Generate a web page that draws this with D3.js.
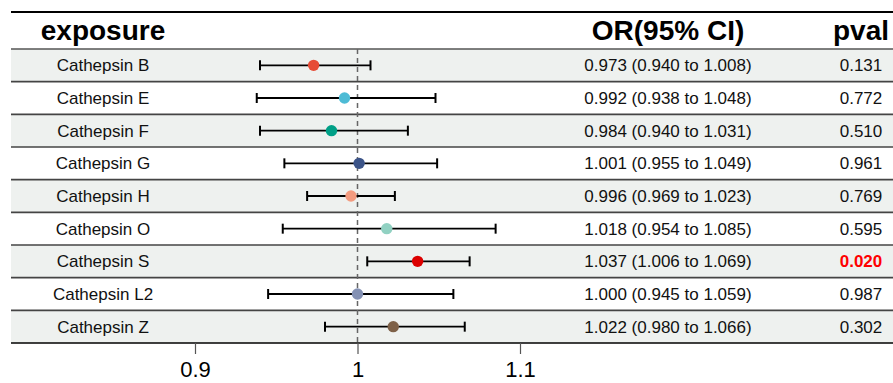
<!DOCTYPE html>
<html>
<head>
<meta charset="utf-8">
<script src="https://cdn.jsdelivr.net/npm/d3@7"></script>
<style>
  body { margin: 0; background: #fff; }
  svg text { font-family: "Liberation Sans", Arial, sans-serif; }
</style>
</head>
<body>
<svg id="chart" width="893" height="383"></svg>
<script>
// forest plot data
const exposures = ["Cathepsin B", "Cathepsin E", "Cathepsin F", "Cathepsin G", "Cathepsin H",
                   "Cathepsin O", "Cathepsin S", "Cathepsin L2", "Cathepsin Z"];
const orValues = [0.973, 0.992, 0.984, 1.001, 0.996, 1.018, 1.037, 1.000, 1.022];
const ciLower  = [0.940, 0.938, 0.940, 0.955, 0.969, 0.954, 1.006, 0.945, 0.980];
const ciUpper  = [1.008, 1.048, 1.031, 1.049, 1.023, 1.085, 1.069, 1.059, 1.066];
const pvals    = ["0.131", "0.772", "0.510", "0.961", "0.769", "0.595", "0.020", "0.987", "0.302"];
const colors   = ["#E64B35", "#4DBBD5", "#00A087", "#3C5488", "#F39B7F",
                  "#91D1C2", "#DC0000", "#8491B4", "#7E6148"];
const xTicks   = [0.9, 1, 1.1];

const fmt = d3.format(".3f");
var svg = d3.select("#chart");

var left = 11, right = 893;
var topLine = 12, rowsTop = 49, rowsBottom = 343;
var labelX = 103, orX = 668, pX = 861;

var y = d3.scaleBand()
  .domain(exposures)
  .range([rowsTop, rowsBottom])
  .padding(0);

var x = d3.scaleLinear()
  .domain([0.9, 1.1])
  .range([195, 520]);

// shaded bands
svg.append("g").selectAll("rect")
  .data(exposures.filter((d, i) => i % 2 == 0))
  .join("rect")
  .attr("x", left)
  .attr("y", d => y(d))
  .attr("width", right - left)
  .attr("height", y.bandwidth())
  .attr("fill", "#EEF1EF");

// row separators
svg.append("g").selectAll("line")
  .data(exposures.slice(1))
  .join("line")
  .attr("x1", left).attr("x2", right)
  .attr("y1", d => y(d)).attr("y2", d => y(d))
  .attr("stroke", "#444")
  .attr("stroke-width", 1.7);

svg.append("line")
  .attr("x1", left).attr("x2", right)
  .attr("y1", rowsTop).attr("y2", rowsTop)
  .attr("stroke", "#555").attr("stroke-width", 1.7);
svg.append("line")
  .attr("x1", left).attr("x2", right)
  .attr("y1", rowsBottom).attr("y2", rowsBottom)
  .attr("stroke", "#000").attr("stroke-width", 1.7);
svg.append("line")
  .attr("x1", left).attr("x2", right)
  .attr("y1", topLine).attr("y2", topLine)
  .attr("stroke", "#000").attr("stroke-width", 2.2);

// headers
var header = svg.append("g")
  .attr("font-weight", "bold")
  .attr("font-size", 28)
  .attr("text-anchor", "middle");
header.append("text").attr("x", labelX).attr("y", 40).text("exposure");
header.append("text").attr("x", orX).attr("y", 40).text("OR(95% CI)");
header.append("text").attr("x", pX).attr("y", 40).text("pval");

// reference line
svg.append("line")
  .attr("x1", x(1)).attr("x2", x(1))
  .attr("y1", rowsTop).attr("y2", rowsBottom)
  .attr("stroke", "#666")
  .attr("stroke-width", 1.5)
  .attr("stroke-dasharray", "5,4");

// axis
var axis = svg.append("g")
  .attr("transform", `translate(0,${rowsBottom})`)
  .call(d3.axisBottom(x).tickValues(xTicks).tickFormat(d3.format("")).tickSize(11).tickPadding(7));
axis.select(".domain").remove();
axis.selectAll(".tick line").attr("stroke", "#555").attr("stroke-width", 1.2);
axis.selectAll(".tick text")
  .attr("font-size", 22)
  .attr("fill", "#000")
  .style("font-family", "'Liberation Sans', Arial, sans-serif");

// CI lines + caps + points
var rows = svg.append("g").selectAll("g")
  .data(exposures)
  .join("g")
  .attr("transform", d => `translate(0,${y(d) + y.bandwidth() / 2})`);

rows.append("line")
  .attr("x1", (d, i) => x(ciLower[i]))
  .attr("x2", (d, i) => x(ciUpper[i]))
  .attr("stroke", "#000").attr("stroke-width", 1.8);
rows.append("line")
  .attr("x1", (d, i) => x(ciLower[i])).attr("x2", (d, i) => x(ciLower[i]))
  .attr("y1", -5).attr("y2", 5)
  .attr("stroke", "#000").attr("stroke-width", 2);
rows.append("line")
  .attr("x1", (d, i) => x(ciUpper[i])).attr("x2", (d, i) => x(ciUpper[i]))
  .attr("y1", -5).attr("y2", 5)
  .attr("stroke", "#000").attr("stroke-width", 2);
rows.append("circle")
  .attr("cx", (d, i) => x(orValues[i]))
  .attr("r", 5.7)
  .attr("fill", (d, i) => colors[i]);

// text columns
rows.append("text")
  .attr("x", labelX).attr("y", 6)
  .attr("text-anchor", "middle").attr("font-size", 17)
  .attr("fill", "#111")
  .text(d => d);
rows.append("text")
  .attr("x", orX).attr("y", 6)
  .attr("text-anchor", "middle").attr("font-size", 17)
  .attr("fill", "#111")
  .text((d, i) => `${fmt(orValues[i])} (${fmt(ciLower[i])} to ${fmt(ciUpper[i])})`);
rows.append("text")
  .attr("x", pX).attr("y", 6)
  .attr("text-anchor", "middle").attr("font-size", 17)
  .attr("font-weight", (d, i) => +pvals[i] < 0.05 ? "bold" : "normal")
  .attr("fill", (d, i) => +pvals[i] < 0.05 ? "#FF0000" : "#111")
  .text((d, i) => pvals[i]);
</script>
</body>
</html>
